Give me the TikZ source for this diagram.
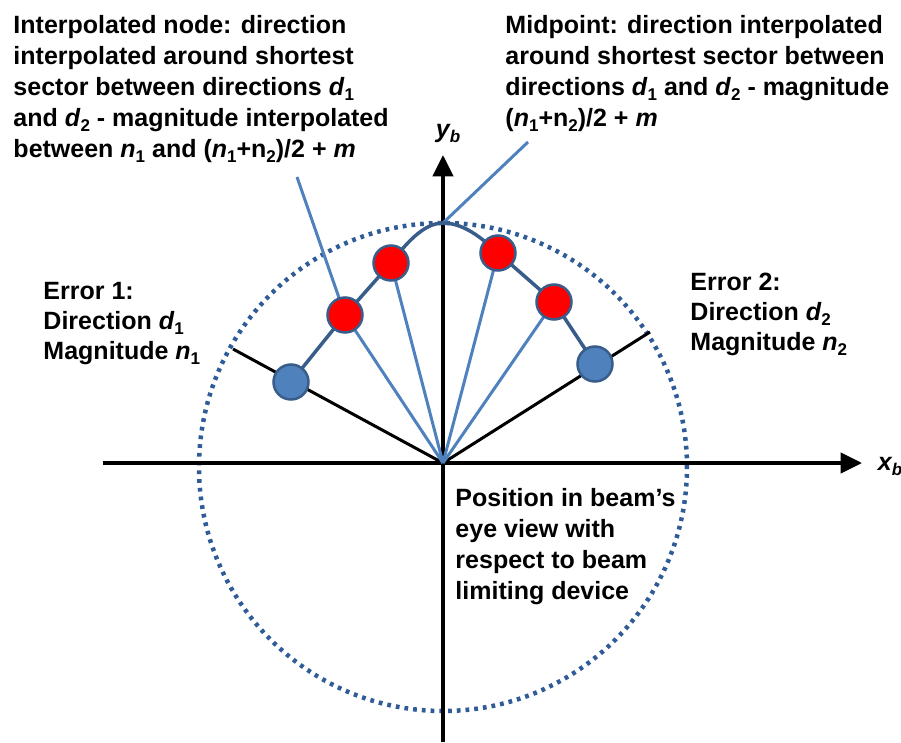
\documentclass[tikz,border=0pt]{standalone}
\usepackage{fontspec}
\setmainfont{Liberation Sans}
\usetikzlibrary{arrows.meta}
\definecolor{spoke}{HTML}{4F81BD}
\definecolor{rim}{HTML}{2F5C97}
\definecolor{edge}{HTML}{385D8A}
\newcommand{\sub}[1]{\raisebox{-2pt}{\fontsize{6.8}{7}\selectfont #1}}

\begin{document}
\begin{tikzpicture}[
    x=0.4pt, y=0.4pt,
    font=\fontsize{10}{12.4}\selectfont\bfseries,
    axis/.style={line width=1.6pt,-{Triangle[length=8.5pt,width=8pt]}},
    errline/.style={line width=1.2pt},
    spokeline/.style={spoke,line width=1.2pt},
    errnode/.style={circle,fill=spoke,draw=edge,line width=1pt,minimum size=14pt,inner sep=0pt},
    interp/.style={circle,fill=red,draw=edge,line width=1pt,minimum size=14pt,inner sep=0pt},
    note/.style={anchor=north west,align=left,inner sep=0pt}
  ]
  \useasboundingbox (-443,-279) rectangle (458,463);

  % limit circle
  \draw[rim,line width=1.8pt,dash pattern=on 1.5pt off 2pt] (0,-4) circle (244);

  % axes
  \coordinate (O) at (0,0);
  \coordinate (xl) at (-340,0);
  \coordinate (xr) at (419,0);
  \coordinate (yd) at (0,-279);
  \coordinate (yu) at (0,308);
  \draw[axis] (xl) -- (xr);
  \draw[axis] (yd) -- (yu);
  \node (xb) at (447,-3) {\textit{x\sub{b}}};
  \node (yb) at (5,330) {\textit{y\sub{b}}};

  % point positions
  \coordinate (b1) at (-152,81);
  \coordinate (r1) at (-98,148);
  \coordinate (r2) at (-52,200);
  \coordinate (mid) at (0,240);
  \coordinate (r3) at (55,210);
  \coordinate (r4) at (111,161);
  \coordinate (b2) at (152,99);
  \coordinate (e1) at (-210,114);
  \coordinate (e2) at (207,131);
  \coordinate (p1) at (-146,286);
  \coordinate (p2) at (85,321);

  % error directions
  \draw[errline] (O) -- (e1);
  \draw[errline] (O) -- (e2);

  % interpolated directions
  \foreach \r in {r1,r2,r3,r4}
    \draw[spokeline] (O) -- (\r);
  \draw[spokeline] (r1) -- (p1);
  \draw[spokeline] (mid) -- (p2);

  % interpolation path
  \draw[edge,line width=1.4pt] (b1) -- (r1) -- (r2)
    .. controls (-38,218) and (-20,240) .. (mid)
    .. controls (20,240) and (38,226) .. (r3) -- (r4) -- (b2);

  \node (n1) at (b1) [errnode] {};
  \node (n2) at (b2) [errnode] {};
  \node (i1) at (r1) [interp] {};
  \node (i2) at (r2) [interp] {};
  \node (i3) at (r3) [interp] {};
  \node (i4) at (r4) [interp] {};

  % labels
  \node (txtinterp) [note] at (-430,448) {Interpolated node: direction\\
    interpolated around shortest\\
    sector between directions \textit{d}\sub{1}\\
    and \textit{d}\sub{2} - magnitude interpolated\\
    between \textit{n}\sub{1} and (\textit{n}\sub{1}+n\sub{2})/2 + \textit{m}};
  \node (txtmid) [note] at (62,448) {Midpoint: direction interpolated\\
    around shortest sector between\\
    directions \textit{d}\sub{1} and \textit{d}\sub{2} - magnitude\\
    (\textit{n}\sub{1}+n\sub{2})/2 + \textit{m}};
  \node (txterr1) [note,font=\fontsize{10}{12}\selectfont\bfseries] at (-400,181) {Error 1:\\
    Direction \textit{d}\sub{1}\\
    Magnitude \textit{n}\sub{1}};
  \node (txterr2) [note,font=\fontsize{10}{12}\selectfont\bfseries] at (247,190) {Error 2:\\
    Direction \textit{d}\sub{2}\\
    Magnitude \textit{n}\sub{2}};
  \node (txtpos) [note] at (12,-25) {Position in beam’s\\
    eye view with\\
    respect to beam\\
    limiting device};
\end{tikzpicture}
\end{document}
